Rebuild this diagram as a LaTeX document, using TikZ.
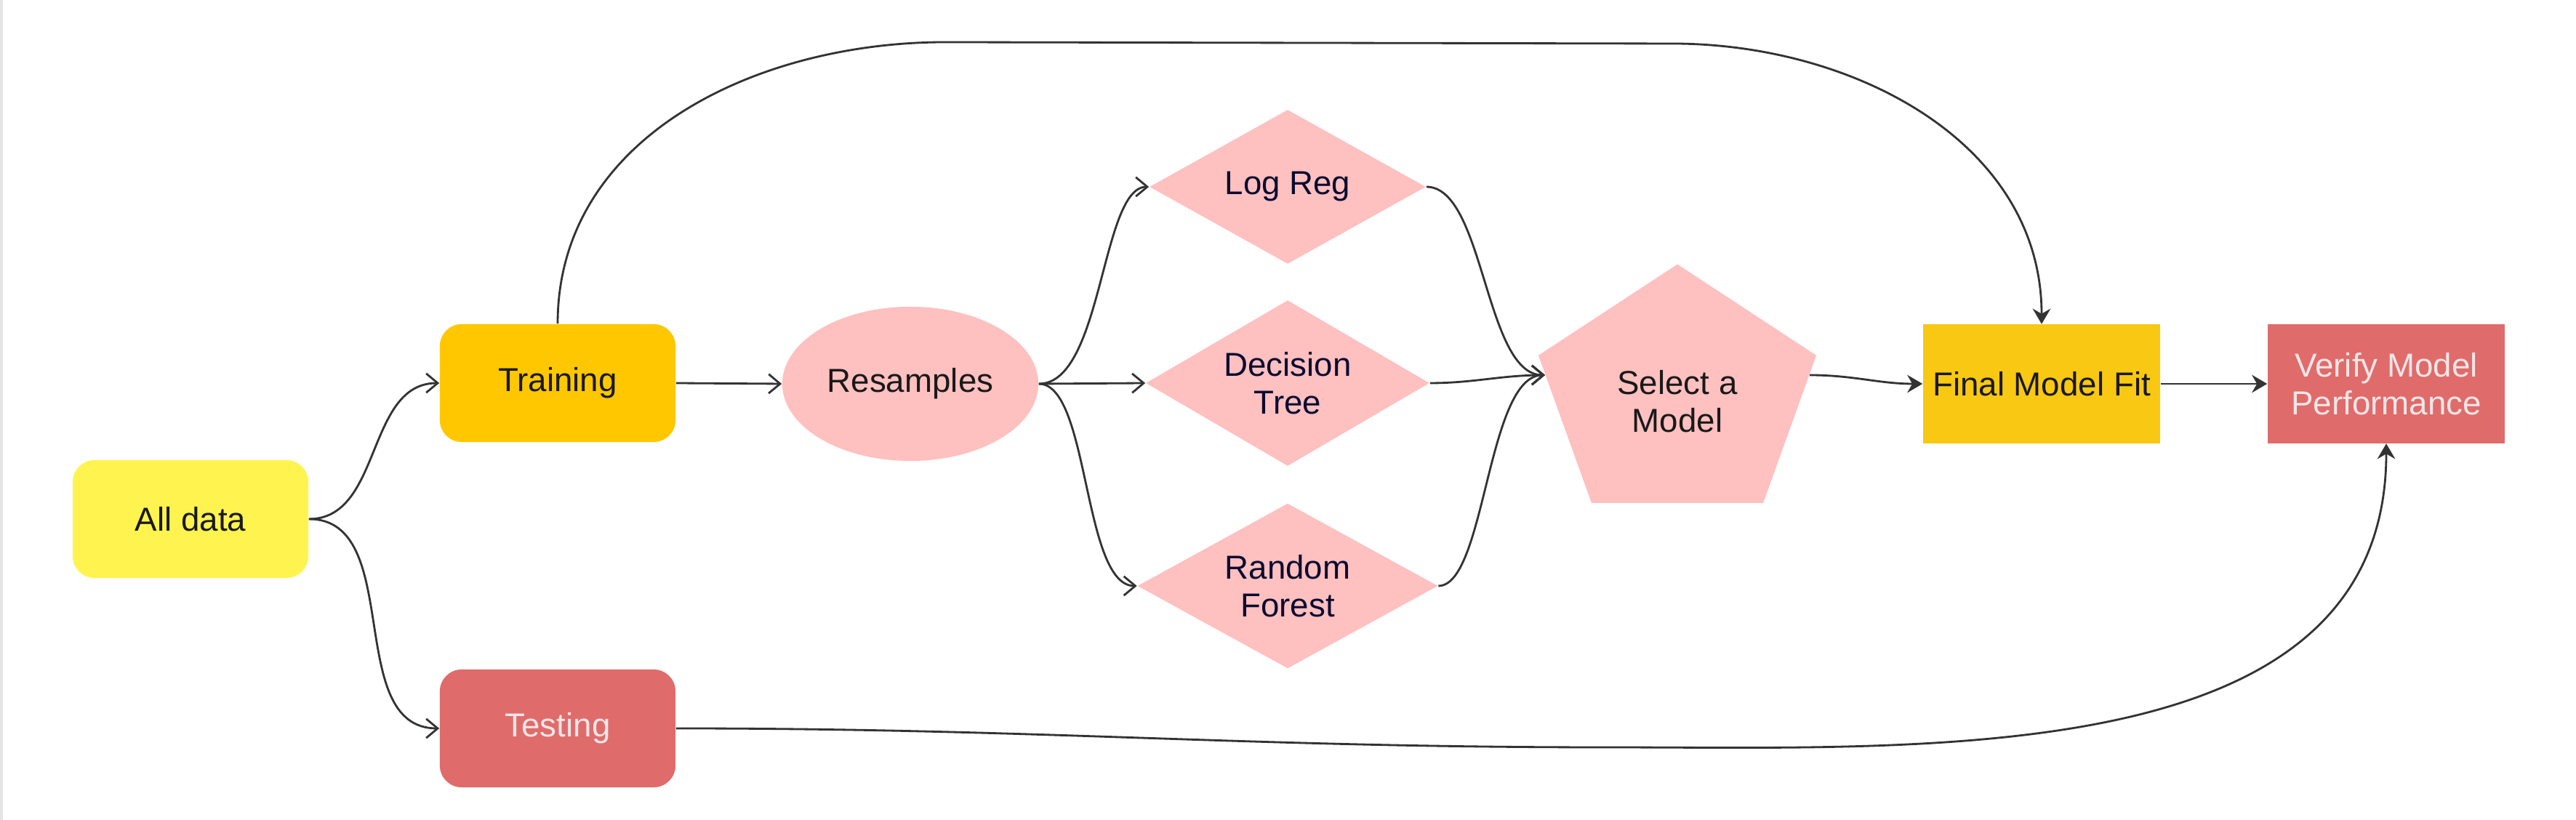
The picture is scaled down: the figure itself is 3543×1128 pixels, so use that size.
\documentclass[tikz,border=0pt]{standalone}
\usepackage{fontspec}
\setmainfont{Liberation Sans}
\usetikzlibrary{shapes.geometric,arrows.meta}

\definecolor{alldatafill}{HTML}{FFF44F}
\definecolor{trainfill}{HTML}{FFC700}
\definecolor{finalfill}{HTML}{F8C813}
\definecolor{redfill}{HTML}{E06B6B}
\definecolor{pinkfill}{HTML}{FFC0C0}
\definecolor{edgegray}{HTML}{333333}
\definecolor{paletext}{HTML}{F4E6E6}
\definecolor{navytext}{HTML}{0A0A30}
\definecolor{framegray}{HTML}{E4E4E4}

\tikzset{
  flowtext/.style={inner sep=0pt, align=center, text=black!90, font=\fontsize{13}{14.7}\selectfont},
  roundbox/.style={flowtext, rectangle, rounded corners=0.3cm, minimum width=3.24cm, minimum height=1.62cm},
  sharpbox/.style={flowtext, rectangle, minimum width=3.26cm, minimum height=1.63cm},
  modelbox/.style={flowtext, diamond, shape aspect=1.75, fill=pinkfill, text=navytext},
  link/.style={draw=edgegray, line width=0.8pt, -{Straight Barb[length=4.5pt,width=7.5pt]}},
  fitlink/.style={draw=edgegray, line width=0.8pt, -{Stealth[length=6pt,width=7pt,inset=2pt]}}
}

\begin{document}
\begin{tikzpicture}[x=0.01cm,y=0.01cm]
  \fill[white] (0,0) rectangle (3543,1128);
  \useasboundingbox (0,0) rectangle (3543,1128);
  \draw[framegray, line width=0.9pt] (2,0) -- (2,1128);

  \node[roundbox, fill=alldatafill] (all) at (262,414) {All data};
  \node[roundbox, fill=trainfill] (train) at (767,601) {Training};
  \node[roundbox, fill=redfill, text=paletext] (test) at (767,126) {Testing};

  \node[flowtext, ellipse, fill=pinkfill, minimum width=3.52cm, minimum height=2.12cm] (res) at (1252,600) {Resamples};

  \node[modelbox, minimum width=3.8cm, minimum height=2.12cm] (logreg) at (1771,871) {Log Reg};
  \node[modelbox, minimum width=3.9cm, minimum height=2.28cm] (tree) at (1771,601) {Decision\\Tree};
  \node[modelbox, minimum width=4.13cm, minimum height=2.27cm] (forest) at (1771,322) {Random\\Forest};

  \node[regular polygon, regular polygon sides=5, minimum size=4.016cm, inner sep=0pt,
        fill=pinkfill, yscale=0.903, transform shape] (select) at (2307,583) {};
  \node[flowtext] (selecttext) at (2307,576) {Select a\\Model};

  \node[sharpbox, fill=finalfill] (final) at (2808,600) {Final Model Fit};
  \node[sharpbox, fill=redfill, text=paletext] (verify) at (3282,600) {Verify Model\\Performance};

  \coordinate (topleft) at (1300,1070);
  \coordinate (topright) at (2300,1068);
  \coordinate (lowmid) at (2208,100);

  \draw[link] (all.east) to[out=0,in=180] (train.west);
  \draw[link] (all.east) to[out=0,in=180] (test.west);
  \draw[link] (train.east) -- (res.west);

  \draw[link] (res.east) .. controls +(88,0) and +(-66,0) .. (logreg.west);
  \draw[link] (res.east) -- (tree.west);
  \draw[link] (res.east) .. controls +(70,0) and +(-75,0) .. (forest.west);

  \draw[link] (logreg.east) .. controls +(80,0) and +(-83,0) .. (select.170);
  \draw[link] (tree.east) .. controls +(60,0) and +(-60,0) .. (select.170);
  \draw[link] (forest.east) .. controls +(65,0) and +(-80,0) .. (select.170);

  \draw[fitlink] (select.10) .. controls +(60,0) and +(-60,0) .. (final.west);
  \draw[fitlink] (final.east) -- (verify.west);
  \draw[fitlink] (train.north) to[out=90,in=180] (topleft) -- (topright) to[out=0,in=90] (final.north);
  \draw[fitlink] (test.east) to[out=0,in=180] (lowmid) to[out=0,in=-90] (verify.south);
\end{tikzpicture}
\end{document}
